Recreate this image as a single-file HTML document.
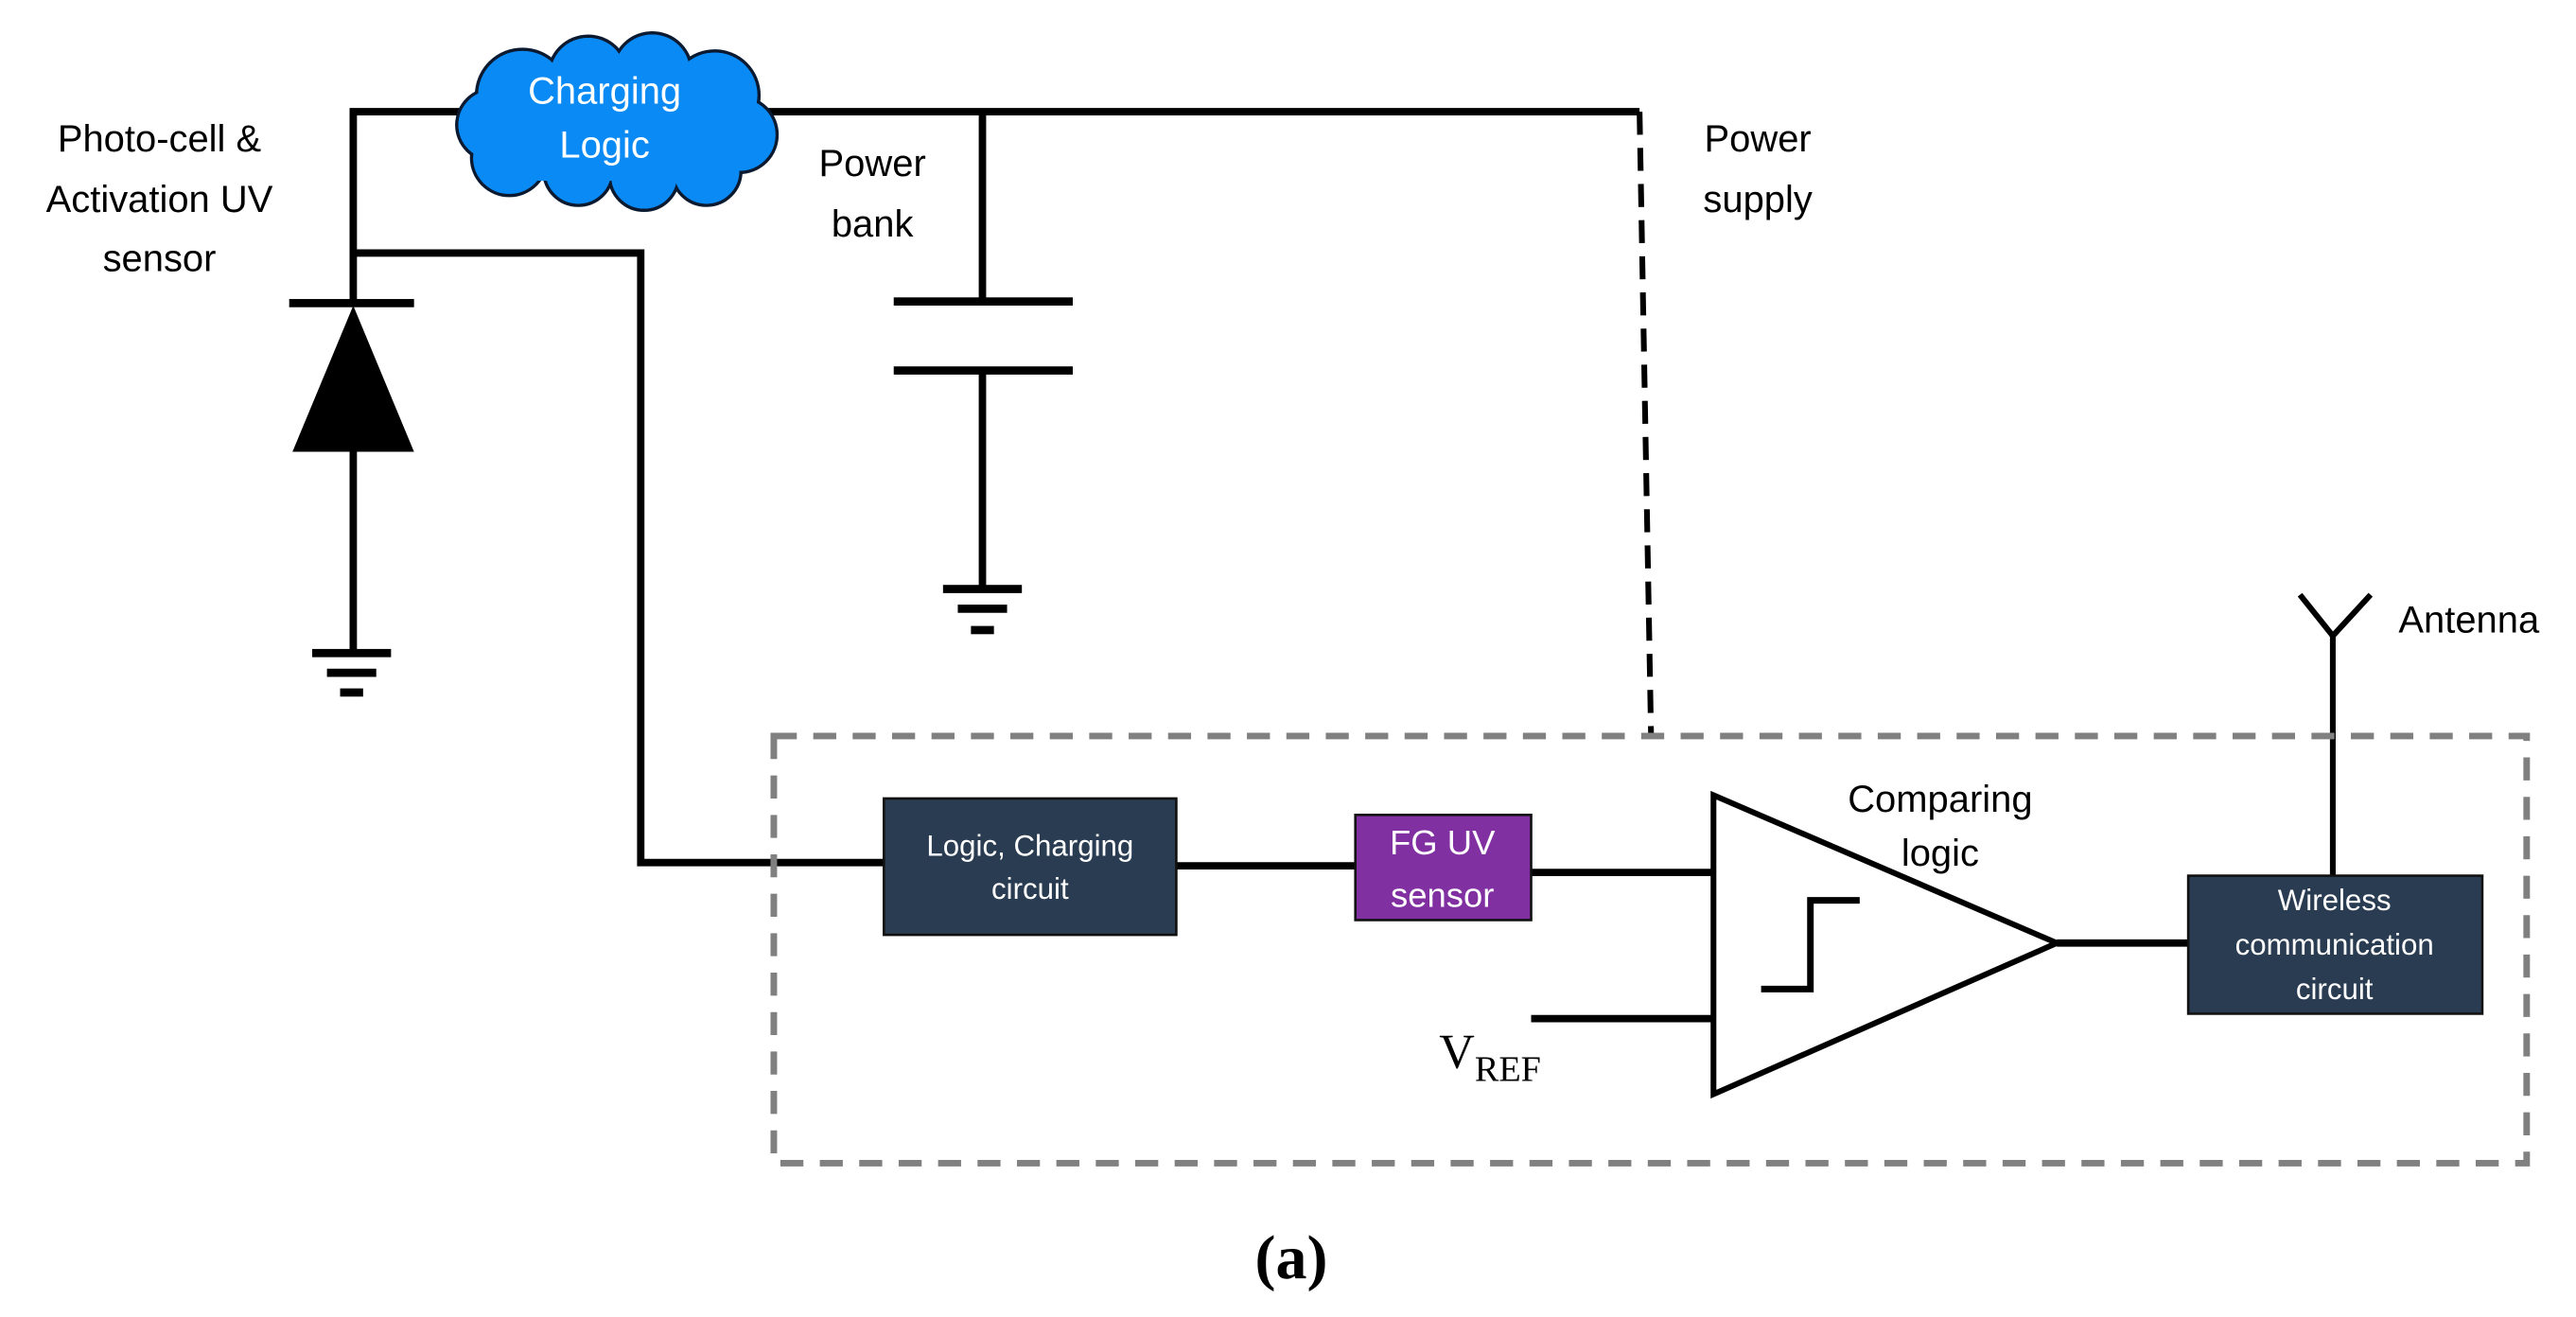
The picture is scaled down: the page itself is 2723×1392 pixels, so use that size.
<!DOCTYPE html>
<html><head><meta charset="utf-8"><style>
html,body{margin:0;padding:0;background:#fff;}
svg{display:block;}
text{font-family:"Liberation Sans",sans-serif;}
text.serif{font-family:"Liberation Serif",serif;}
</style></head><body>
<svg width="2723" height="1392" viewBox="0 0 1568 801.6" xmlns="http://www.w3.org/2000/svg">
<rect width="1568" height="802" fill="#fff"/>
<g stroke="#000" stroke-width="4.5" fill="none">
<polyline points="215,186 215,68 300,68"/>
<line x1="450" y1="68" x2="998" y2="68"/>
<polyline points="215,154 390,154 390,525 538,525"/>
<line x1="215" y1="270" x2="215" y2="396"/>
<line x1="598" y1="68" x2="598" y2="184"/>
<line x1="598" y1="226" x2="598" y2="359"/>
<line x1="716" y1="527" x2="825" y2="527"/>
<line x1="932" y1="531" x2="1043" y2="531"/>
<line x1="932" y1="620" x2="1043" y2="620"/>
<line x1="1252" y1="574" x2="1332" y2="574"/>
<polyline points="1400,362 1420,387 1443,362" stroke-width="3.5"/>
<line x1="1420" y1="385" x2="1420" y2="533" stroke-width="3.5"/>
<line x1="998" y1="68" x2="1005" y2="448" stroke-width="3.5" stroke-dasharray="14,8"/>
</g>
<rect x="176" y="182" width="76" height="5" fill="#000"/>
<polygon points="215,186 178,275 252,275" fill="#000"/>
<g fill="#000">
<rect x="190" y="395" width="48" height="5"/><rect x="199" y="407" width="30" height="5"/><rect x="207" y="419" width="14" height="5"/>
<rect x="544" y="181" width="109" height="5"/><rect x="544" y="223" width="109" height="5"/>
<rect x="574" y="356" width="48" height="5"/><rect x="583" y="368" width="30" height="5"/><rect x="591" y="381" width="14" height="5"/>
</g>
<g fill="#0a8af5" stroke="#0b1a30" stroke-width="2">
<circle cx="318" cy="58" r="28"/><circle cx="358" cy="46" r="24"/><circle cx="397" cy="44" r="24"/><circle cx="435" cy="58" r="27"/>
<circle cx="450" cy="82" r="23"/><circle cx="430" cy="104" r="21"/><circle cx="392" cy="107" r="21"/><circle cx="352" cy="104" r="21"/>
<circle cx="310" cy="96" r="23"/><circle cx="300" cy="76" r="22"/>
</g>
<g fill="#0a8af5">
<circle cx="318" cy="58" r="27"/><circle cx="358" cy="46" r="23"/><circle cx="397" cy="44" r="23"/><circle cx="435" cy="58" r="26"/>
<circle cx="450" cy="82" r="22"/><circle cx="430" cy="104" r="20"/><circle cx="392" cy="107" r="20"/><circle cx="352" cy="104" r="20"/>
<circle cx="310" cy="96" r="22"/><circle cx="300" cy="76" r="21"/>
<rect x="305" y="50" width="140" height="60"/>
</g>
<text x="368" y="63" font-size="23" fill="#fff" text-anchor="middle">Charging</text>
<text x="368" y="96" font-size="23" fill="#fff" text-anchor="middle">Logic</text>
<rect x="471" y="448" width="1067" height="260" fill="none" stroke="#808080" stroke-width="4" stroke-dasharray="14,10"/>
<rect x="538" y="486" width="178" height="83" fill="#2a3c51" stroke="#111" stroke-width="1.5"/>
<text x="627" y="521" font-size="18" fill="#fff" text-anchor="middle">Logic, Charging</text>
<text x="627" y="547" font-size="18" fill="#fff" text-anchor="middle">circuit</text>
<rect x="825" y="496" width="107" height="64" fill="#8030a0" stroke="#111" stroke-width="1.5"/>
<text x="878" y="520" font-size="21" fill="#fff" text-anchor="middle">FG UV</text>
<text x="878" y="552" font-size="21" fill="#fff" text-anchor="middle">sensor</text>
<rect x="1332" y="533" width="179" height="84" fill="#2a3c51" stroke="#111" stroke-width="1.5"/>
<text x="1421" y="554" font-size="18" fill="#fff" text-anchor="middle">Wireless</text>
<text x="1421" y="581" font-size="18" fill="#fff" text-anchor="middle">communication</text>
<text x="1421" y="608" font-size="18" fill="#fff" text-anchor="middle">circuit</text>
<polygon points="1043,484 1043,666 1252,574" fill="#fff" stroke="#000" stroke-width="3.5"/>
<polyline points="1072,602 1102,602 1102,548 1132,548" stroke="#000" stroke-width="4" fill="none"/>
<g font-size="23" fill="#000" text-anchor="middle">
<text x="97" y="92">Photo-cell &amp;</text>
<text x="97" y="129">Activation UV</text>
<text x="97" y="165">sensor</text>
<text x="531" y="107">Power</text>
<text x="531" y="144">bank</text>
<text x="1070" y="92">Power</text>
<text x="1070" y="129">supply</text>
<text x="1181" y="494">Comparing</text>
<text x="1181" y="527">logic</text>
</g>
<text x="1460" y="385" font-size="23" fill="#000">Antenna</text>
<text class="serif" x="876" y="650" font-size="30" fill="#000">V<tspan font-size="22" dy="8">REF</tspan></text>
<text class="serif" x="786" y="778" font-size="38" fill="#000" text-anchor="middle" font-weight="bold">(a)</text>
</svg>
</body></html>
